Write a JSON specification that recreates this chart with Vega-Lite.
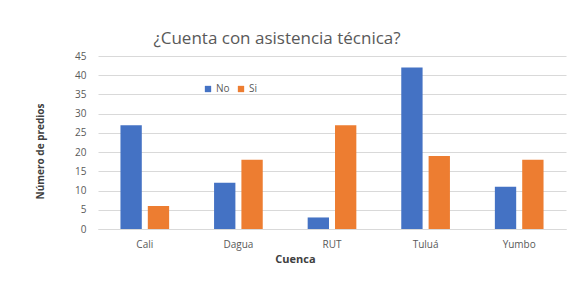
{
  "$schema": "https://vega.github.io/schema/vega-lite/v6.json",
  "autosize": {"type": "none"},
  "width": 468,
  "height": 173,
  "padding": {"left": 98, "top": 56, "right": 8, "bottom": 56},
  "background": "white",
  "title": {
    "text": "¿Cuenta con asistencia técnica?",
    "anchor": "middle",
    "dx": -55,
    "offset": 3,
    "font": "Open Sans",
    "fontSize": 17,
    "fontWeight": "normal",
    "color": "#595959",
    "limit": 0,
    "letterSpacing": 1
  },
  "data": {
    "values": [
      {"cuenca": "Cali", "resp": "No", "n": 27},
      {"cuenca": "Cali", "resp": "Si", "n": 6},
      {"cuenca": "Dagua", "resp": "No", "n": 12},
      {"cuenca": "Dagua", "resp": "Si", "n": 18},
      {"cuenca": "RUT", "resp": "No", "n": 3},
      {"cuenca": "RUT", "resp": "Si", "n": 27},
      {"cuenca": "Tuluá", "resp": "No", "n": 42},
      {"cuenca": "Tuluá", "resp": "Si", "n": 19},
      {"cuenca": "Yumbo", "resp": "No", "n": 11},
      {"cuenca": "Yumbo", "resp": "Si", "n": 18}
    ]
  },
  "mark": {"type": "bar"},
  "encoding": {
    "x": {
      "field": "cuenca",
      "type": "nominal",
      "sort": null,
      "scale": {"paddingInner": 0.48, "paddingOuter": 0.24},
      "axis": {
        "title": "Cuenca",
        "titleFont": "Open Sans",
        "titleFontSize": 11,
        "titleFontWeight": "bold",
        "titleColor": "#404040",
        "titleX": 197,
        "titleY": 24,
        "labelAngle": 0,
        "labelFont": "Open Sans",
        "labelFontSize": 10,
        "labelColor": "#595959",
        "labelPadding": 10,
        "ticks": false,
        "domain": true,
        "domainColor": "#d9d9d9"
      }
    },
    "xOffset": {"field": "resp", "type": "nominal", "scale": {"paddingInner": 0.22}},
    "y": {
      "field": "n",
      "type": "quantitative",
      "scale": {"domain": [0, 45]},
      "axis": {
        "title": "Número de predios",
        "titleFont": "Open Sans",
        "titleFontSize": 10,
        "titleFontWeight": "bold",
        "titleColor": "#404040",
        "titleX": -53,
        "titleY": 95,
        "values": [0, 5, 10, 15, 20, 25, 30, 35, 40, 45],
        "labelFont": "Open Sans",
        "labelFontSize": 10,
        "labelColor": "#595959",
        "labelPadding": 12,
        "ticks": false,
        "domain": false,
        "gridColor": "#d9d9d9"
      }
    },
    "color": {
      "field": "resp",
      "type": "nominal",
      "scale": {"domain": ["No", "Si"], "range": ["#4472C4", "#ED7D31"]},
      "legend": {
        "title": null,
        "orient": "none",
        "direction": "horizontal",
        "legendX": 105,
        "legendY": 28,
        "symbolType": "square",
        "symbolSize": 40,
        "labelFont": "Open Sans",
        "labelFontSize": 10,
        "labelColor": "#595959",
        "columnPadding": 6,
        "labelOffset": 3
      }
    }
  },
  "config": {"view": {"stroke": null}}
}
